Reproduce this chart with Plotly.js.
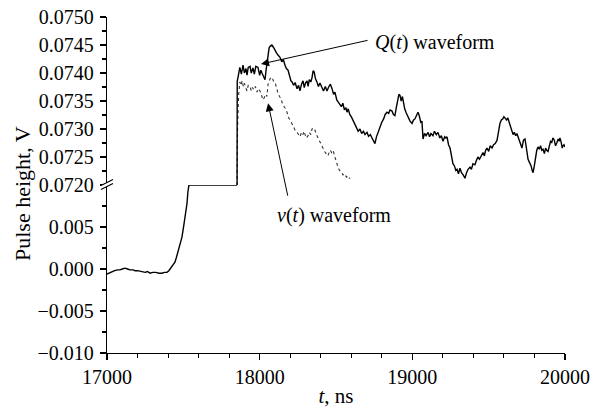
<!DOCTYPE html>
<html><head><meta charset="utf-8">
<script src="https://cdn.plot.ly/plotly-3.0.1.min.js"></script>
<style>html,body{margin:0;padding:0;background:#fff}#chart{width:593px;height:408px}</style>
</head><body><div id="chart"></div>
<script>
// Lower segment of the pulse (both waveforms coincide), V
const tLow = [17000,17010,17020,17035,17050,17070,17085,17100,17118,17135,17150,17170,17185,17200,17220,17236,17250,17265,17282,17300,17320,17340,17360,17375,17393,17405,17413,17425,17435,17445,17455,17465,17478,17491,17504,17515,17524,17530,17537,17852];
const qLow = [-0.0006,-0.0005,-0.0004,-0.0003,-0.0002,-0.0001,-0.0001,0.0000,0.0001,0.0000,-0.0001,-0.0001,-0.0002,-0.0002,-0.0003,-0.0003,-0.0004,-0.0003,-0.0005,-0.0004,-0.0004,-0.0005,-0.0005,-0.0004,-0.0004,-0.0002,0.0000,0.0003,0.0005,0.0008,0.0014,0.0021,0.0029,0.0038,0.0053,0.0066,0.0078,0.0092,0.0100,0.0100];

// Q(t) waveform, upper segment
const tQ = [17852,17853,17860,17870,17880,17891,17900,17910,17917,17925,17937,17945,17956,17965,17975,17989,18000,18008,18015,18025,18035,18042,18048,18055,18062,18070,18080,18090,18100,18110,18120,18133,18145,18155,18166,18175,18186,18195,18205,18212,18222,18232,18245,18255,18264,18274,18284,18292,18300,18310,18317,18325,18335,18343,18350,18357,18365,18375,18385,18395,18408,18418,18430,18441,18452,18463,18474,18484,18493,18505,18515,18526,18535,18545,18555,18565,18572,18580,18590,18600,18612,18624,18635,18645,18657,18668,18680,18690,18703,18713,18725,18736,18745,18755,18765,18778,18788,18800,18812,18822,18834,18845,18854,18867,18876,18886,18895,18905,18912,18919,18927,18935,18942,18950,18958,18965,18975,18985,18998,19008,19017,19027,19037,19045,19055,19063,19070,19080,19090,19103,19113,19122,19135,19145,19157,19168,19180,19190,19201,19212,19220,19227,19237,19247,19257,19266,19276,19285,19293,19302,19312,19322,19333,19345,19355,19365,19378,19387,19397,19410,19420,19430,19440,19452,19463,19472,19480,19489,19500,19510,19522,19532,19543,19555,19563,19574,19583,19592,19600,19607,19617,19625,19632,19640,19650,19660,19668,19677,19685,19692,19700,19710,19718,19728,19738,19745,19752,19758,19768,19778,19785,19791,19800,19808,19815,19823,19832,19840,19848,19856,19865,19873,19880,19889,19897,19905,19913,19921,19930,19938,19947,19955,19962,19967,19975,19982,19987,19993,20000];
const qUp = [0.0720,0.07385,0.07395,0.07410,0.07398,0.07414,0.07400,0.07408,0.07396,0.07410,0.07412,0.07400,0.07409,0.07398,0.07412,0.07410,0.07396,0.07405,0.07400,0.07392,0.07388,0.07405,0.07420,0.07438,0.07445,0.07448,0.07450,0.07446,0.07440,0.07436,0.07432,0.07428,0.07420,0.07424,0.07414,0.07408,0.07405,0.07395,0.07386,0.07384,0.07378,0.07383,0.07372,0.07378,0.07368,0.07380,0.07386,0.07374,0.07382,0.07386,0.07376,0.07388,0.07384,0.07392,0.07404,0.07402,0.07390,0.07384,0.07376,0.07382,0.07372,0.07368,0.07376,0.07368,0.07375,0.07380,0.07372,0.07362,0.07366,0.07352,0.07348,0.07344,0.07340,0.07346,0.07334,0.07338,0.07330,0.07336,0.07326,0.07322,0.07314,0.07306,0.07302,0.07296,0.07300,0.07292,0.07296,0.07290,0.07294,0.07287,0.07290,0.07284,0.07280,0.07274,0.07286,0.07296,0.07300,0.07312,0.07318,0.07326,0.07330,0.07328,0.07334,0.07332,0.07326,0.07324,0.07338,0.07350,0.07362,0.07360,0.07350,0.07358,0.07346,0.07336,0.07330,0.07326,0.07320,0.07314,0.07310,0.07316,0.07318,0.07326,0.07330,0.07324,0.07312,0.07314,0.07282,0.07292,0.07288,0.07294,0.07286,0.07292,0.07288,0.07296,0.07290,0.07294,0.07284,0.07288,0.07278,0.07286,0.07284,0.07286,0.07272,0.07266,0.07252,0.07238,0.07234,0.07226,0.07228,0.07220,0.07230,0.07222,0.07218,0.07212,0.07222,0.07228,0.07232,0.07228,0.07238,0.07236,0.07244,0.07250,0.07246,0.07254,0.07258,0.07252,0.07262,0.07266,0.07260,0.07270,0.07266,0.07272,0.07274,0.07280,0.07292,0.07310,0.07316,0.07318,0.07322,0.07320,0.07316,0.07320,0.07314,0.07310,0.07300,0.07290,0.07294,0.07288,0.07292,0.07286,0.07280,0.07270,0.07266,0.07280,0.07282,0.07270,0.07258,0.07246,0.07240,0.07234,0.07226,0.07222,0.07236,0.07254,0.07262,0.07268,0.07264,0.07270,0.07262,0.07264,0.07256,0.07266,0.07262,0.07260,0.07272,0.07278,0.07276,0.07284,0.07280,0.07270,0.07276,0.07282,0.07278,0.07284,0.07276,0.07266,0.07270,0.07272,0.07268];

// v(t) waveform, upper segment
const tV = [17852,17855,17862,17870,17878,17885,17893,17900,17908,17917,17925,17937,17945,17953,17962,17972,17982,17992,18002,18012,18022,18030,18040,18048,18055,18063,18072,18081,18090,18100,18110,18120,18130,18140,18150,18160,18170,18179,18190,18200,18212,18222,18232,18245,18255,18264,18274,18284,18290,18297,18305,18317,18325,18335,18343,18352,18362,18372,18382,18392,18405,18415,18425,18435,18447,18455,18463,18474,18483,18493,18503,18513,18523,18535,18546,18558,18568,18579,18586,18592];
const vUp = [0.0720,0.07300,0.07360,0.07384,0.07378,0.07386,0.07376,0.07382,0.07374,0.07368,0.07378,0.07376,0.07368,0.07374,0.07370,0.07376,0.07366,0.07372,0.07368,0.07360,0.07352,0.07356,0.07362,0.07358,0.07380,0.07386,0.07392,0.07392,0.07386,0.07384,0.07372,0.07364,0.07358,0.07354,0.07344,0.07340,0.07336,0.07330,0.07320,0.07316,0.07308,0.07302,0.07298,0.07294,0.07290,0.07286,0.07294,0.07290,0.07296,0.07290,0.07284,0.07288,0.07294,0.07290,0.07300,0.07302,0.07298,0.07290,0.07284,0.07278,0.07270,0.07266,0.07260,0.07256,0.07252,0.07258,0.07262,0.07256,0.07260,0.07250,0.07240,0.07232,0.07226,0.07224,0.07218,0.07220,0.07214,0.07216,0.07212,0.07213];

const upperTicks = [0.0720,0.0725,0.0730,0.0735,0.0740,0.0745,0.0750];
const lowerTicks = [-0.010,-0.005,0.000,0.005];
const xTicks = [17000,18000,19000,20000];

const FONT = 'Liberation Serif, Times New Roman, serif';
const W = 458, H = 336; // plot area px
const px = v => v / W, py = v => v / H;

const traces = [
  {x: tLow, y: qLow, xaxis: 'x', yaxis: 'y', mode: 'lines', line: {color: '#000', width: 1.4}, hoverinfo: 'skip'},
  {x: tV, y: vUp, xaxis: 'x', yaxis: 'y2', mode: 'lines', line: {color: '#333', width: 1.1, dash: 'dot'}, hoverinfo: 'skip'},
  {x: tQ, y: qUp, xaxis: 'x', yaxis: 'y2', mode: 'lines', line: {color: '#000', width: 1.4}, hoverinfo: 'skip'}
];

const axCommon = {showgrid: false, zeroline: false, showline: true, linecolor: '#000', linewidth: 1.2,
  ticks: 'outside', ticklen: 6, tickwidth: 1.2, tickcolor: '#000',
  tickfont: {family: FONT, size: 20, color: '#000'}};

const layout = {
  width: 593, height: 408,
  margin: {l: 107, r: 28, t: 17, b: 55},
  paper_bgcolor: '#fff', plot_bgcolor: '#fff',
  showlegend: false,
  font: {family: FONT, color: '#000'},
  xaxis: Object.assign({}, axCommon, {range: [17000, 20000], tickvals: xTicks, tickformat: 'd', anchor: 'y',
    minor: {dtick: 200, tick0: 17000, ticks: 'outside', ticklen: 4, tickwidth: 1.1, tickcolor: '#000', showgrid: false},
    title: {text: '<i>t</i>, ns', font: {family: FONT, size: 21, color: '#000'}, standoff: 2}}),
  yaxis: Object.assign({}, axCommon, {domain: [0, 0.5], range: [-0.010, 0.010], tickvals: lowerTicks, tickformat: '.3f', anchor: 'x',
    ticklabelstandoff: 2,
    minor: {tickvals: [-0.0075, -0.0025, 0.0025, 0.0075], ticks: 'outside', ticklen: 4, tickwidth: 1.1, tickcolor: '#000', showgrid: false}}),
  yaxis2: Object.assign({}, axCommon, {domain: [0.5, 1], range: [0.0720, 0.0750], tickvals: upperTicks, tickformat: '.4f', anchor: 'x',
    ticklabelstandoff: 2,
    minor: {tickvals: [0.07225,0.07275,0.07325,0.07375,0.07425,0.07475], ticks: 'outside', ticklen: 4, tickwidth: 1.1, tickcolor: '#000', showgrid: false}}),
  annotations: [
    {xref: 'paper', yref: 'paper', x: px(22 - 107), y: py(353 - 194), text: 'Pulse height, V', textangle: -90, showarrow: false,
      xanchor: 'center', yanchor: 'middle', font: {family: FONT, size: 22, color: '#000'}},
    {xref: 'x', yref: 'y2', x: 18009, y: 0.07416, text: '', showarrow: true, ax: 108, ay: -24,
      arrowhead: 2, arrowsize: 1.6, arrowwidth: 1, arrowcolor: '#000', standoff: 0},
    {xref: 'x', yref: 'y2', x: 18742, y: 0.07455, text: '<i>Q</i>(<i>t</i>) waveform', showarrow: false,
      xanchor: 'left', yanchor: 'middle', font: {family: FONT, size: 20, color: '#000'}},
    {xref: 'x', yref: 'y2', x: 18055, y: 0.07346, text: '', showarrow: true, ax: 20, ay: 94,
      arrowhead: 2, arrowsize: 1.6, arrowwidth: 1, arrowcolor: '#000', standoff: 0},
    {xref: 'x', yref: 'y', x: 18100, y: 0.0064, text: '<i>v</i>(<i>t</i>) waveform', showarrow: false,
      xanchor: 'left', yanchor: 'middle', font: {family: FONT, size: 20, color: '#000'}}
  ],
  shapes: [
    {type: 'path', xref: 'paper', yref: 'paper', layer: 'above',
      path: `M ${px(-6)},${0.5 + py(-0.5)} L ${px(6)},${0.5 + py(5.5)} L ${px(6)},${0.5 + py(1.5)} L ${px(-6)},${0.5 + py(-4.5)} Z`,
      fillcolor: '#fff', line: {width: 0}},
    {type: 'line', xref: 'paper', yref: 'paper', layer: 'above', x0: px(-6), y0: 0.5 + py(-0.5), x1: px(6), y1: 0.5 + py(5.5), line: {color: '#000', width: 1.1}},
    {type: 'line', xref: 'paper', yref: 'paper', layer: 'above', x0: px(-6), y0: 0.5 + py(-4.5), x1: px(6), y1: 0.5 + py(1.5), line: {color: '#000', width: 1.1}}
  ]
};

Plotly.newPlot('chart', traces, layout, {staticPlot: true, displayModeBar: false});
</script></body></html>
